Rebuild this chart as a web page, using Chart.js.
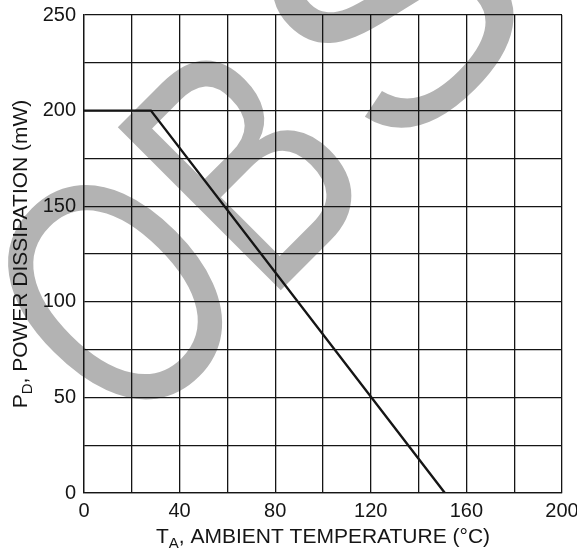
<!DOCTYPE html>
<html>
<head>
<meta charset="utf-8">
<script src="https://cdn.jsdelivr.net/npm/chart.js@4.4.1/dist/chart.umd.min.js"></script>
<style>
  html, body { margin: 0; padding: 0; background: #fff; }
  #wrap { width: 577px; height: 550px; position: relative; }
</style>
</head>
<body>
<div id="wrap"><canvas id="chart"></canvas></div>
<script>
// derating curve
const tempC = [0, 28, 151];
const powerMW = [200, 200, 0];

const xTickLabels = [0, 40, 80, 120, 160, 200];
const yTickLabels = [0, 50, 100, 150, 200, 250];

const FONT = '"Liberation Sans", Arial, sans-serif';
const INK = '#151515';

// big grey "OBS" stamp behind the grid, at 45 degrees
const watermark = {
    id: 'watermark',
    beforeDraw(chart) {
        const ctx = chart.ctx;
        ctx.save();
        ctx.translate(128, 443);
        ctx.rotate(-Math.PI / 4);
        ctx.fillStyle = '#b3b3b3';
        ctx.font = '335px ' + FONT;
        ctx.textAlign = 'left';
        ctx.textBaseline = 'alphabetic';
        ctx.save();
        ctx.scale(0.75, 1);
        ctx.fillText('OB', 0, 0);
        ctx.restore();
        ctx.fillText('S', 383, -8);
        ctx.restore();
    }
};

// axis titles with subscripts
function drawSubTitle(ctx, main, sub, rest, size) {
    const big = size + 'px ' + FONT;
    const small = Math.round(size * 0.7) + 'px ' + FONT;
    ctx.font = big;
    const w1 = ctx.measureText(main).width;
    const w3 = ctx.measureText(rest).width;
    ctx.font = small;
    const w2 = ctx.measureText(sub).width;
    let x = -(w1 + w2 + w3) / 2;
    ctx.textAlign = 'left';
    ctx.textBaseline = 'alphabetic';
    ctx.font = big;
    ctx.fillText(main, x, 0);
    x += w1;
    ctx.font = small;
    ctx.fillText(sub, x, 5);
    x += w2;
    ctx.font = big;
    ctx.fillText(rest, x, 0);
}

const axisTitles = {
    id: 'axisTitles',
    afterDraw(chart) {
        const ctx = chart.ctx;
        const area = chart.chartArea;
        ctx.save();
        ctx.fillStyle = INK;
        ctx.translate((area.left + area.right) / 2, 543);
        drawSubTitle(ctx, 'T', 'A', ', AMBIENT TEMPERATURE (\u00B0C)', 21);
        ctx.restore();

        ctx.save();
        ctx.fillStyle = INK;
        ctx.translate(27, (area.top + area.bottom) / 2);
        ctx.rotate(-Math.PI / 2);
        drawSubTitle(ctx, 'P', 'D', ', POWER DISSIPATION (mW)', 21);
        ctx.restore();
    }
};

const points = tempC.map(function(t, i) {
    return { x: t, y: powerMW[i] };
});

new Chart(document.getElementById('chart'), {
    type: 'scatter',
    data: {
        datasets: [{
            data: points,
            showLine: true,
            borderColor: INK,
            borderWidth: 2.4,
            pointRadius: 0,
            tension: 0
        }]
    },
    options: {
        responsive: true,
        maintainAspectRatio: false,
        animation: false,
        layout: { padding: { top: 15, right: 15, left: 0, bottom: 0 } },
        plugins: {
            legend: { display: false },
            tooltip: { enabled: false }
        },
        scales: {
            x: {
                type: 'linear',
                min: 0,
                max: 200,
                grid: { color: INK, lineWidth: 1.3, drawTicks: false },
                border: { color: INK, width: 1.3 },
                ticks: {
                    stepSize: 20,
                    padding: 6,
                    color: INK,
                    maxRotation: 0,
                    font: { family: FONT, size: 20 },
                    callback: function(v) {
                        return xTickLabels.includes(v) ? String(v) : '';
                    }
                },
                afterFit: function(scale) {
                    scale.height = 57;
                    scale.paddingRight = 0;
                    scale.paddingLeft = 0;
                }
            },
            y: {
                min: 0,
                max: 250,
                grid: { color: INK, lineWidth: 1.3, drawTicks: false },
                border: { color: INK, width: 1.3 },
                ticks: {
                    stepSize: 25,
                    padding: 8,
                    color: INK,
                    font: { family: FONT, size: 20 },
                    callback: function(v) {
                        return yTickLabels.includes(v) ? String(v) : '';
                    }
                },
                afterFit: function(scale) {
                    scale.width = 84;
                    scale.paddingTop = 0;
                    scale.paddingBottom = 0;
                }
            }
        }
    },
    plugins: [watermark, axisTitles]
});
</script>
</body>
</html>
